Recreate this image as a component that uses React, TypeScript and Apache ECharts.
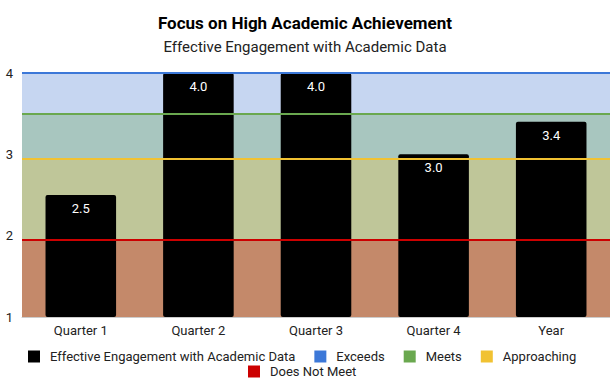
import React, { useEffect, useRef } from "react";
import * as echarts from "echarts";

const categories = ["Quarter 1", "Quarter 2", "Quarter 3", "Quarter 4", "Year"];
const engagement = [2.5, 4.0, 4.0, 3.0, 3.4];

// Performance level thresholds (line value) and band floors
const levelNames = ["Exceeds", "Meets", "Approaching", "Does Not Meet"];
const levelLines = [4.0, 3.5, 2.95, 1.95];
const levelColors = ["#3c78d8", "#6aa84f", "#f1c232", "#cc0000"];
const bandColors = ["#c6d6f1", "#a8c6bf", "#bfc699", "#c4896a"];
const bandRanges: [number, number][] = [
  [3.5, 4.0],
  [2.95, 3.5],
  [1.95, 2.95],
  [1.0, 1.95],
];

const seriesName = "Effective Engagement with Academic Data";

export default function App() {
  const ref = useRef<HTMLDivElement>(null);

  useEffect(() => {
    if (!ref.current) return;
    const chart = echarts.init(ref.current, undefined, { renderer: "svg" });
    const font = "Roboto, 'Noto Sans', sans-serif";

    const levelSeries = levelNames.map((name, i) => ({
      name,
      type: "line" as const,
      data: [] as number[],
      itemStyle: { color: levelColors[i] },
      lineStyle: { color: levelColors[i] },
      markArea: {
        silent: true,
        itemStyle: { color: bandColors[i] },
        data: [[{ yAxis: bandRanges[i][0] }, { yAxis: bandRanges[i][1] }]],
      },
      markLine: {
        silent: true,
        symbol: "none",
        label: { show: false },
        lineStyle: { color: levelColors[i], type: "solid", width: 2 },
        data: [{ yAxis: levelLines[i] }],
      },
    }));

    const legendText = { fontSize: 13, color: "#222", padding: [0, 0, 0, 5] };

    chart.setOption({
      animation: false,
      textStyle: { fontFamily: font },
      title: {
        text: "Focus on High Academic Achievement",
        subtext: "Effective Engagement with Academic Data",
        left: "center",
        top: 9,
        itemGap: 8,
        textStyle: { fontSize: 17, fontWeight: "bold", color: "#000", fontFamily: font },
        subtextStyle: { fontSize: 15, color: "#222", fontFamily: font },
      },
      legend: [
        {
          data: [seriesName, "Exceeds", "Meets", "Approaching"],
          left: 28,
          top: 350,
          padding: 0,
          icon: "rect",
          itemWidth: 12,
          itemHeight: 12,
          itemGap: 19,
          textStyle: legendText,
        },
        {
          data: ["Does Not Meet"],
          left: 248,
          top: 365,
          padding: 0,
          icon: "rect",
          itemWidth: 12,
          itemHeight: 12,
          textStyle: legendText,
        },
      ],
      grid: { left: 22, right: 0, top: 73, bottom: 62 },
      xAxis: {
        type: "category",
        data: categories,
        axisLine: { lineStyle: { color: "#cccccc" } },
        axisTick: { show: false },
        axisLabel: { color: "#222", fontSize: 13, margin: 7 },
      },
      yAxis: {
        type: "value",
        min: 1,
        max: 4,
        interval: 1,
        splitLine: { show: false },
        axisLine: { show: false },
        axisTick: { show: false },
        axisLabel: { color: "#222", fontSize: 13, margin: 9 },
      },
      series: [
        {
          name: seriesName,
          type: "bar",
          data: engagement,
          barWidth: "60%",
          itemStyle: { color: "#000000", borderRadius: 2 },
          label: {
            show: true,
            position: "insideTop",
            distance: 7,
            color: "#ffffff",
            fontSize: 13,
            formatter: (p: any) => Number(p.value).toFixed(1),
          },
        },
        ...levelSeries,
      ],
    });

    return () => chart.dispose();
  }, []);

  return (
    <div
      ref={ref}
      style={{ position: "fixed", left: 0, top: 0, width: 610, height: 379, background: "#fff" }}
    />
  );
}
